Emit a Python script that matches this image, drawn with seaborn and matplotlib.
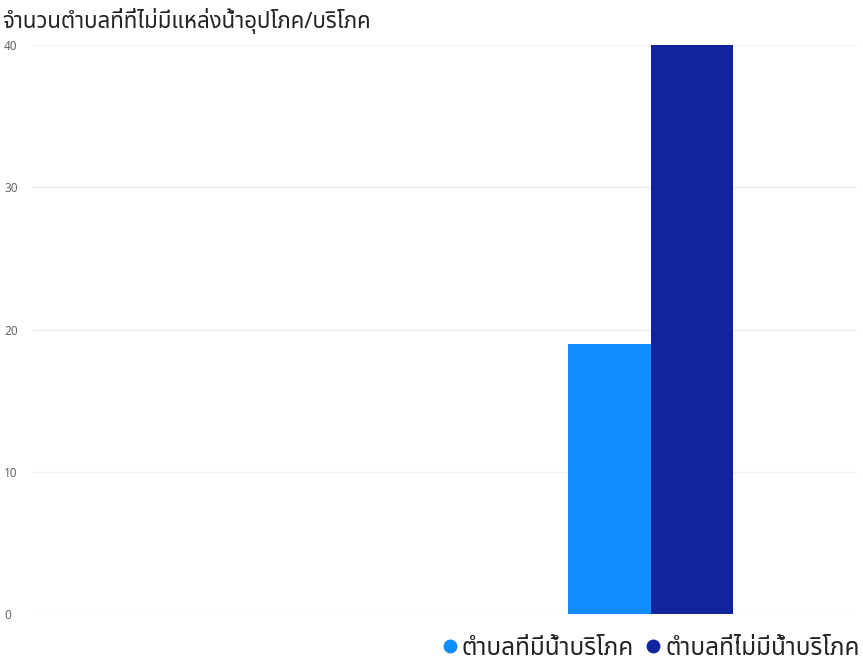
import pandas as pd
import matplotlib.pyplot as plt
import seaborn as sns
from matplotlib.lines import Line2D

# --- Datos ---
categorias = ["กลุ่ม 1", "กลุ่ม 2"]
series = ["ตำบลที่มีน้ำบริโภค", "ตำบลที่ไม่มีน้ำบริโภค"]
valores_con_agua = [float("nan"), 19]
valores_sin_agua = [float("nan"), 40]
ticks_y = [0, 10, 20, 30, 40]
titulo = "จำนวนตำบลที่ที่ไม่มีแหล่งน้ำอุปโภค/บริโภค"
colores = ["#118DFF", "#12239E"]

df = pd.DataFrame({
    "categoria": categorias * 2,
    "serie": [series[0]] * 2 + [series[1]] * 2,
    "valor": valores_con_agua + valores_sin_agua,
})

sns.set_style("white")
plt.rcParams["font.family"] = ["Noto Sans Thai", "Noto Sans Thai UI", "Loma", "Garuda",
                               "Tlwg Typo", "DejaVu Sans", "Noto Sans"]

fig = plt.figure(figsize=(8.63, 6.61), dpi=100)
ax = fig.add_axes([0.037, 0.071, 0.956, 0.861])

sns.barplot(data=df, x="categoria", y="valor", hue="serie", order=categorias,
            hue_order=series, palette=colores, width=0.4, saturation=1,
            linewidth=0, ax=ax, legend=False)

ax.set_xlim(-0.5, 1.5)
ax.set_ylim(0, 40)
ax.set_yticks(ticks_y)
ax.set_xticks([])
ax.set_xlabel("")
ax.set_ylabel("")
ax.tick_params(axis="y", length=0, labelsize=8.5, labelcolor="#666666", pad=20)
for lbl in ax.get_yticklabels():
    lbl.set_horizontalalignment("left")
ax.yaxis.grid(True, color="#f0f0f0", linewidth=1)
ax.set_axisbelow(True)
sns.despine(ax=ax, left=True, bottom=True)

fig.text(0.003, 0.968, titulo, fontsize=16, color="#252423", ha="left", va="center")

handles = [Line2D([], [], marker="o", linestyle="", markersize=9, color=c) for c in colores]
fig.legend(handles, series, loc="lower right", bbox_to_anchor=(1.022, -0.033), ncol=2,
           frameon=False, fontsize=17.5, handletextpad=0.0, columnspacing=0.3,
           handlelength=1.0, labelcolor="#252423")

plt.savefig("out.png", dpi=100)
plt.close()
